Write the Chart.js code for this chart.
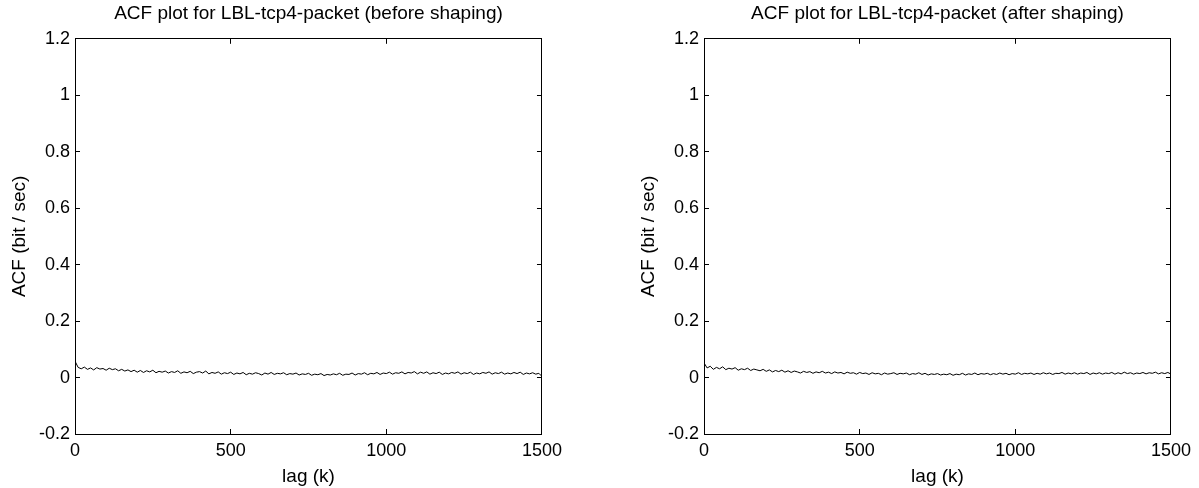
<!DOCTYPE html>
<html>
<head>
<meta charset="utf-8">
<script src="https://cdn.jsdelivr.net/npm/chart.js@4"></script>
<style>
  body { margin: 0; background: #fff; }
  .wrap { position: relative; width: 1199px; height: 488px; overflow: hidden; }
  canvas { position: absolute; top: 0; }
  #acf-before { left: 0; }
  #acf-after { left: 629px; }
</style>
</head>
<body>
<div class="wrap">
  <canvas id="acf-before" width="573" height="488"></canvas>
  <canvas id="acf-after" width="573" height="488"></canvas>
</div>
<script>
// ACF values, one every 10 lags (0 .. 1500)
const lag_step = 10;
const acf_before = [
  0.058, 0.036, 0.031, 0.037, 0.029, 0.034, 0.027, 0.035, 0.030, 0.032,
  0.026, 0.033, 0.028, 0.031, 0.024, 0.029, 0.023, 0.027, 0.021, 0.026,
  0.019, 0.025, 0.018, 0.024, 0.020, 0.026, 0.017, 0.022, 0.019, 0.023,
  0.016, 0.021, 0.018, 0.024, 0.015, 0.020, 0.017, 0.022, 0.014, 0.019,
  0.021, 0.016, 0.023, 0.013, 0.018, 0.015, 0.020, 0.012, 0.017, 0.014,
  0.019, 0.011, 0.016, 0.013, 0.018, 0.010, 0.015, 0.012, 0.017, 0.014,
  0.009, 0.016, 0.012, 0.018, 0.011, 0.015, 0.013, 0.017, 0.010, 0.014,
  0.012, 0.016, 0.009, 0.013, 0.011, 0.015, 0.008, 0.012, 0.010, 0.014,
  0.007, 0.011, 0.009, 0.013, 0.010, 0.015, 0.008, 0.012, 0.011, 0.016,
  0.009, 0.014, 0.012, 0.017, 0.010, 0.015, 0.013, 0.018, 0.011, 0.016,
  0.014, 0.019, 0.012, 0.017, 0.015, 0.020, 0.013, 0.018, 0.016, 0.021,
  0.013, 0.019, 0.015, 0.020, 0.012, 0.017, 0.014, 0.019, 0.011, 0.016,
  0.013, 0.018, 0.015, 0.020, 0.012, 0.017, 0.014, 0.019, 0.011, 0.016,
  0.013, 0.018, 0.015, 0.020, 0.012, 0.017, 0.014, 0.019, 0.012, 0.016,
  0.013, 0.018, 0.014, 0.019, 0.011, 0.016, 0.013, 0.017, 0.012, 0.015,
  0.004
];
const acf_after = [
  0.052, 0.034, 0.040, 0.029, 0.036, 0.031, 0.038, 0.028, 0.033, 0.030,
  0.035, 0.026, 0.031, 0.028, 0.033, 0.025, 0.030, 0.027, 0.024, 0.029,
  0.022, 0.027, 0.020, 0.025, 0.021, 0.026, 0.019, 0.024, 0.018, 0.023,
  0.020, 0.016, 0.022, 0.018, 0.021, 0.015, 0.020, 0.017, 0.022, 0.016,
  0.019, 0.014, 0.020, 0.016, 0.018, 0.013, 0.019, 0.015, 0.017, 0.012,
  0.018, 0.014, 0.016, 0.011, 0.017, 0.013, 0.015, 0.010, 0.016, 0.012,
  0.014, 0.017, 0.011, 0.015, 0.013, 0.016, 0.010, 0.014, 0.012, 0.017,
  0.011, 0.015, 0.009, 0.013, 0.011, 0.014, 0.009, 0.012, 0.010, 0.014,
  0.008, 0.012, 0.010, 0.015, 0.009, 0.013, 0.011, 0.016, 0.010, 0.014,
  0.012, 0.015, 0.010, 0.014, 0.011, 0.016, 0.012, 0.015, 0.010, 0.014,
  0.012, 0.017, 0.011, 0.015, 0.013, 0.016, 0.011, 0.015, 0.012, 0.017,
  0.013, 0.016, 0.011, 0.015, 0.014, 0.018, 0.012, 0.016, 0.013, 0.017,
  0.012, 0.016, 0.014, 0.018, 0.011, 0.016, 0.013, 0.017, 0.012, 0.016,
  0.014, 0.018, 0.012, 0.017, 0.013, 0.019, 0.014, 0.017, 0.012, 0.016,
  0.014, 0.018, 0.013, 0.017, 0.015, 0.019, 0.013, 0.017, 0.014, 0.018,
  0.012
];
const x_ticks = [0, 500, 1000, 1500];
const y_ticks = [-0.2, 0, 0.2, 0.4, 0.6, 0.8, 1, 1.2];

Chart.defaults.font.family = "'Liberation Sans', Arial, sans-serif";
Chart.defaults.color = '#000';

function fmt(v) {
  return String(Number(v.toFixed(1)));
}

function createAcfChart(canvas_id, title, values) {
  const points = values.map((v, i) => ({ x: i * lag_step, y: v }));
  const border = { display: true, color: '#000', width: 1 };
  const inward = { drawOnChartArea: false, drawTicks: true, tickLength: -5, color: '#000' };
  const xr = { min: x_ticks[0], max: x_ticks[x_ticks.length - 1] };
  const yr = { min: y_ticks[0], max: y_ticks[y_ticks.length - 1] };

  new Chart(document.getElementById(canvas_id), {
    type: 'line',
    data: {
      datasets: [{
        data: points,
        borderColor: '#000',
        borderWidth: 1,
        pointRadius: 0,
        tension: 0,
        xAxisID: 'x',
        yAxisID: 'y'
      }]
    },
    options: {
      responsive: false,
      animation: false,
      devicePixelRatio: 1,
      layout: { padding: { top: 0, right: 26, bottom: 0, left: 0 } },
      plugins: {
        legend: { display: false },
        tooltip: { enabled: false },
        title: {
          display: true,
          fullSize: false,
          text: title,
          font: { size: 19, weight: 'normal' },
          padding: { top: 2, bottom: 14 }
        }
      },
      scales: {
        x: {
          type: 'linear', position: 'bottom', ...xr,
          ticks: { stepSize: 500, padding: 11, font: { size: 18 }, maxRotation: 0, callback: v => String(v) },
          grid: inward, border: border,
          title: { display: true, text: 'lag (k)', font: { size: 19 }, padding: { top: 4, bottom: 0 } },
          afterFit: s => { s.height = 54; }
        },
        x2: {
          type: 'linear', position: 'top', ...xr,
          ticks: { stepSize: 500, display: false },
          grid: inward, border: border,
          afterFit: s => { s.height = 0; }
        },
        y: {
          type: 'linear', position: 'left', ...yr,
          ticks: { stepSize: 0.2, padding: 10, font: { size: 18 }, callback: v => fmt(v) },
          grid: inward, border: border,
          title: { display: true, text: 'ACF (bit / sec)', font: { size: 19 }, padding: { top: 8, bottom: 0 } },
          afterFit: s => { s.width = 75; }
        },
        y2: {
          type: 'linear', position: 'right', ...yr,
          ticks: { stepSize: 0.2, display: false },
          grid: inward, border: border,
          afterFit: s => { s.width = 0; }
        }
      }
    }
  });
}

createAcfChart('acf-before', 'ACF plot for LBL-tcp4-packet (before shaping)', acf_before);
createAcfChart('acf-after', 'ACF plot for LBL-tcp4-packet (after shaping)', acf_after);
</script>
</body>
</html>
